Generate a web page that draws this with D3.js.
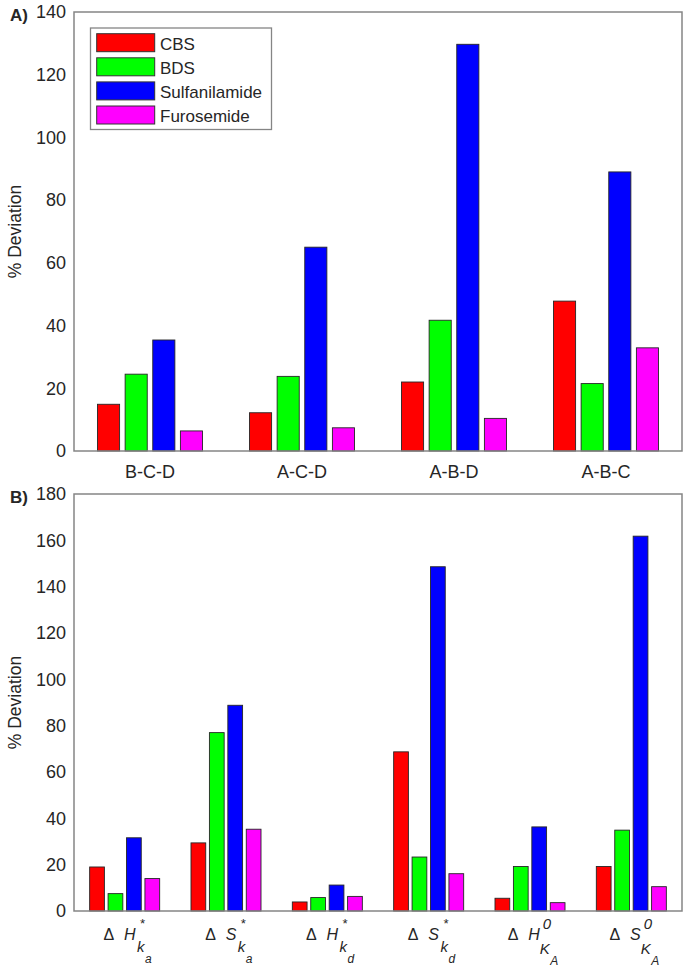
<!DOCTYPE html>
<html><head><meta charset="utf-8">
<script src="https://cdn.jsdelivr.net/npm/d3@7"></script>
<style>body{margin:0;background:#fff}svg{display:block}text{font-family:Arial,"Liberation Sans",sans-serif;fill:#262626}</style>
</head><body>
<svg id="c" width="685" height="970"></svg>
<script>
const series = ["CBS","BDS","Sulfanilamide","Furosemide"];
const colors = ["#ff0000","#00ff00","#0000ff","#ff00ff"];

const catsA = ["B-C-D","A-C-D","A-B-D","A-B-C"];
const cbsA  = [14.9, 12.2, 22.0, 47.8];
const bdsA  = [24.5, 23.8, 41.7, 21.5];
const sulA  = [35.4, 65.0, 129.7, 89.0];
const furA  = [6.4, 7.4, 10.4, 32.9];
const ticksA = [0,20,40,60,80,100,120,140];

// category labels for B: [main symbol, superscript, subscript, sub-subscript]
const catsB = [["H","*","k","a"],["S","*","k","a"],["H","*","k","d"],["S","*","k","d"],["H","0","K","A"],["S","0","K","A"]];
const cbsB  = [19.0, 29.4, 3.9, 68.7, 5.5, 19.2];
const bdsB  = [7.5, 77.0, 5.8, 23.3, 19.2, 34.9];
const sulB  = [31.6, 88.8, 11.2, 148.6, 36.3, 161.8];
const furB  = [14.0, 35.3, 6.3, 16.1, 3.6, 10.5];
const ticksB = [0,20,40,60,80,100,120,140,160,180];

const svg = d3.select("#c");
const L = 74, R = 682;

function panel(opt){
  const {top,bottom,cats,vals,ymax,ticks,tag} = opt;
  const g = svg.append("g");
  const x = d3.scaleBand().domain(d3.range(cats.length)).range([L,R]).padding(0);
  const gw = x.bandwidth()*(4/5.5);
  const xs = d3.scaleBand().domain(d3.range(4)).range([-gw/2,gw/2]).paddingInner(0.2).paddingOuter(0.1);
  const y = d3.scaleLinear().domain([0,ymax]).range([bottom,top]);
  vals.forEach((arr,si)=>{
    g.selectAll(null).data(arr).enter().append("rect")
      .attr("x",(d,i)=>x(i)+x.bandwidth()/2+xs(si))
      .attr("width",xs.bandwidth())
      .attr("y",d=>y(d)).attr("height",d=>y(0)-y(d))
      .attr("fill",colors[si]).attr("stroke","#262626").attr("stroke-width",0.9);
  });
  g.append("rect").attr("x",L).attr("y",top).attr("width",R-L).attr("height",bottom-top)
    .attr("fill","none").attr("stroke","#858585").attr("stroke-width",1.5);
  const ya = d3.axisLeft(y).tickValues(ticks).tickSize(0).tickPadding(8);
  const ag = g.append("g").attr("transform",`translate(${L},0)`).call(ya);
  ag.select(".domain").remove();
  ag.selectAll("text").style("font-size","18px").attr("fill","#262626").style("font-family","Arial, 'Liberation Sans', sans-serif");
  g.append("text").attr("transform",`translate(20.5,${(top+bottom)/2}) rotate(-90)`)
    .attr("text-anchor","middle").style("font-size","17.5px").text("% Deviation");
  g.append("text").attr("x",10).attr("y",top+8.5).style("font-size","17px").style("font-weight","bold").attr("fill","#000").text(tag);
  return {g,x,y};
}

const A = panel({top:12,bottom:451,cats:catsA,vals:[cbsA,bdsA,sulA,furA],ymax:140,ticks:ticksA,tag:"A)"});
A.g.selectAll(null).data(catsA).enter().append("text")
  .attr("x",(d,i)=>A.x(i)+A.x.bandwidth()/2).attr("y",478)
  .attr("text-anchor","middle").style("font-size","18px").text(d=>d);

// legend
const lg = svg.append("g");
lg.append("rect").attr("x",90.5).attr("y",28).attr("width",181).attr("height",101.5).attr("fill","#fff").attr("stroke","#858585").attr("stroke-width",1.3);
series.forEach((s,i)=>{
  const cy = 42.7 + i*24.1;
  lg.append("rect").attr("x",96.7).attr("y",cy-9).attr("width",58).attr("height",18).attr("fill",colors[i]).attr("stroke","#333").attr("stroke-width",1);
  lg.append("text").attr("x",160).attr("y",cy+7.3).style("font-size","17px").text(s);
});

const B = panel({top:494,bottom:911,cats:catsB,vals:[cbsB,bdsB,sulB,furB],ymax:180,ticks:ticksB,tag:"B)"});
catsB.forEach((c,i)=>{
  const base = 940;
  const lab = B.g.append("g");
  const add = (txt,x,y,size,ital)=>{
    const t = lab.append("text").attr("x",x).attr("y",y).style("font-size",size+"px").text(txt);
    if(ital) t.style("font-style","italic");
    return t;
  };
  add("\u0394",0,0,16,false);
  const m = add(c[0],20.5,0,16,true);
  const mEnd = 20.5 + m.node().getComputedTextLength();
  const isStar = c[1]==="*";
  if(isStar) add("*",mEnd+4,-12,13,true); else add("0",mEnd+3,-11.5,15,true);
  const sx = isStar ? mEnd+1.5 : mEnd;
  const s = add(c[2],sx,isStar?12:14,15,true);
  const sEnd = sx + s.node().getComputedTextLength();
  add(c[3],sEnd+0.5,isStar?23:25,12,true);
  const bb = lab.node().getBBox();
  const cx = B.x(i)+B.x.bandwidth()/2+3;
  lab.attr("transform",`translate(${cx-(bb.x+bb.width/2)},${base})`);
});
</script>
</body></html>
